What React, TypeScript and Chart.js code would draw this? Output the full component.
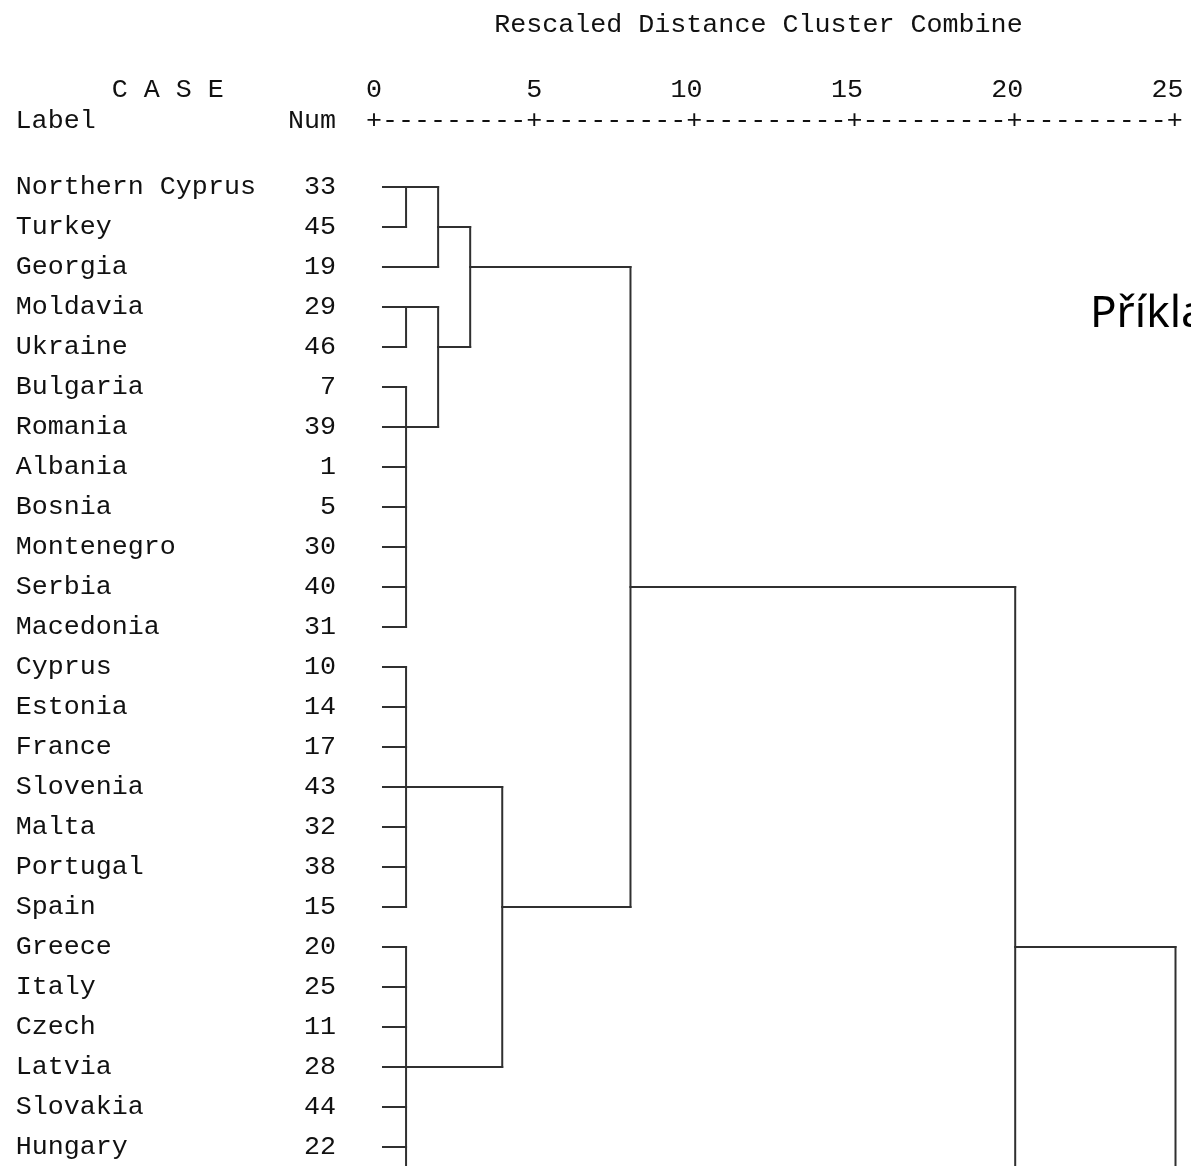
import { useEffect, useRef } from "react";
import { Chart, registerables } from "chart.js";

Chart.register(...registerables);

// ---- data ----
const caseLabels = [
  "Northern Cyprus", "Turkey", "Georgia", "Moldavia", "Ukraine", "Bulgaria",
  "Romania", "Albania", "Bosnia", "Montenegro", "Serbia", "Macedonia",
  "Cyprus", "Estonia", "France", "Slovenia", "Malta", "Portugal", "Spain",
  "Greece", "Italy", "Czech", "Latvia", "Slovakia", "Hungary",
];
const caseNums = [33, 45, 19, 29, 46, 7, 39, 1, 5, 30, 40, 31, 10, 14, 17, 43, 32, 38, 15, 20, 25, 11, 28, 44, 22];
const xTickValues = [0, 5, 10, 15, 20, 25];
const titleText = "Rescaled Distance Cluster Combine";
const slideText = "Příklad";

// merges: members are leaf row indices, names of earlier merges, or "below" (continues past the crop)
const mergeNames = ["A", "B", "C", "D", "E", "F", "G", "H", "I", "J", "K", "L"];
const mergeMembers: (number | string)[][] = [
  [0, 1],
  ["A", 2],
  [3, 4],
  [5, 6, 7, 8, 9, 10, 11],
  ["C", "D"],
  ["B", "E"],
  [12, 13, 14, 15, 16, 17, 18],
  [19, 20, 21, 22, 23, 24, "below"],
  ["G", "H"],
  ["F", "I"],
  ["J", "below"],
  ["K", "below"],
];
const mergeDistances = [1, 2, 1, 1, 2, 3, 1, 1, 4, 8, 20, 25];
const mergeExitRows = [0, 1, 3, 6, 4, 2, 15, 22, 18, 10, 19, 19];

// ---- style / layout constants ----
const MONO = '"Liberation Mono", "DejaVu Sans Mono", monospace';
const FONT_SIZE = 26.7;
const CHAR_W = FONT_SIZE * 0.6;
const TEXT_COLOR = "#111111";
const LINE_COLOR = "#303030";
const LEAF_START = 0.28;
const Y_AXIS_W = 350;
const X_AXIS_H = 106;
const ROW_PX = 40;
const FIRST_ROW_Y = 187;
const PX_PER_UNIT = 32.06;
const ZERO_X = 374;
const W = 1191;
const H = 1166;

const xMin = -(ZERO_X - Y_AXIS_W) / PX_PER_UNIT;
const xMax = xMin + (W - Y_AXIS_W) / PX_PER_UNIT;
const yMin = -(FIRST_ROW_Y - X_AXIS_H) / ROW_PX;
const yMax = yMin + (H - X_AXIS_H) / ROW_PX;
const belowRow = caseLabels.length + 2;

function rowText(i: number) {
  return caseLabels[i].padEnd(18, " ") + String(caseNums[i]).padStart(2, " ");
}

function buildSegments() {
  const info: Record<string, { row: number; x: number }> = {};
  const segs: { x: number; y: number }[][] = [];
  const memberInfo = (m: number | string) => {
    if (typeof m === "number") return { row: m, x: LEAF_START };
    if (m === "below") return { row: belowRow, x: LEAF_START };
    return info[m];
  };
  mergeNames.forEach((name, k) => {
    const d = mergeDistances[k];
    const ms = mergeMembers[k].map(memberInfo);
    const rows = ms.map((m) => m.row);
    const top = Math.min(...rows);
    const bottom = Math.max(...rows);
    segs.push([{ x: d, y: top }, { x: d, y: bottom }]);
    ms.forEach((m) => {
      if (m.row <= caseLabels.length) segs.push([{ x: m.x, y: m.row }, { x: d, y: m.row }]);
    });
    info[name] = { row: mergeExitRows[k], x: d };
  });
  return segs;
}

const textPlugin = {
  id: "spssText",
  afterDraw(chart: any) {
    const ctx = chart.ctx as CanvasRenderingContext2D;
    const xs = chart.scales.x;
    const ys = chart.scales.y;
    const px0 = xs.getPixelForValue(0);
    const labelRight = ys.right - 14;
    const labelLeft = labelRight - 20 * CHAR_W;
    ctx.save();
    ctx.fillStyle = TEXT_COLOR;
    ctx.font = `${FONT_SIZE}px ${MONO}`;
    ctx.textBaseline = "middle";
    ctx.textAlign = "left";
    ctx.fillText(titleText, px0 - CHAR_W / 2 + 8 * CHAR_W, 25);
    ctx.fillText("C A S E", labelLeft + 6 * CHAR_W, 90);
    ctx.fillText("Label", labelLeft, 121);
    ctx.textAlign = "right";
    ctx.fillText("Num", labelRight, 121);
    ctx.textAlign = "left";
    const ruler = "+---------".repeat(xTickValues.length - 1) + "+";
    ctx.fillText(ruler, px0 - CHAR_W / 2, 121);
    ctx.fillStyle = "#000";
    ctx.font = `44px "Noto Sans", sans-serif`;
    ctx.textBaseline = "alphabetic";
    ctx.fillText(slideText, 1090, 327);
    ctx.restore();
  },
};

export default function App() {
  const ref = useRef<HTMLCanvasElement | null>(null);
  useEffect(() => {
    if (!ref.current) return;
    const segs = buildSegments();
    const chart = new Chart(ref.current, {
      type: "scatter",
      data: {
        datasets: segs.map((s) => ({
          data: s,
          showLine: true,
          borderColor: LINE_COLOR,
          borderWidth: 2,
          borderCapStyle: "square",
          pointRadius: 0,
          pointHoverRadius: 0,
          fill: false,
          tension: 0,
        })),
      } as any,
      options: {
        animation: false,
        responsive: false,
        events: [],
        layout: { padding: 0 },
        plugins: {
          legend: { display: false },
          tooltip: { enabled: false },
          title: { display: false },
        },
        scales: {
          x: {
            type: "linear",
            position: "top",
            min: xMin,
            max: xMax,
            grid: { display: false, drawTicks: false },
            border: { display: false },
            ticks: {
              autoSkip: false,
              align: "end",
              labelOffset: CHAR_W / 2,
              padding: 0,
              color: TEXT_COLOR,
              font: { family: MONO, size: FONT_SIZE },
              callback: (v: any) => String(v),
            },
            afterBuildTicks: (s: any) => {
              s.ticks = xTickValues.map((v) => ({ value: v }));
            },
            afterFit: (s: any) => {
              s.height = X_AXIS_H;
              s.paddingLeft = 0;
              s.paddingRight = 0;
              s.paddingTop = 0;
              s.paddingBottom = 0;
            },
          },
          y: {
            type: "linear",
            position: "left",
            reverse: true,
            min: yMin,
            max: yMax,
            grid: { display: false, drawTicks: false },
            border: { display: false },
            ticks: {
              autoSkip: false,
              padding: 14,
              color: TEXT_COLOR,
              font: { family: MONO, size: FONT_SIZE },
              callback: (v: any) => rowText(Number(v)),
            },
            afterBuildTicks: (s: any) => {
              s.ticks = caseLabels.map((_, i) => ({ value: i }));
            },
            afterFit: (s: any) => {
              s.width = Y_AXIS_W;
              s.paddingLeft = 0;
              s.paddingRight = 0;
              s.paddingTop = 0;
              s.paddingBottom = 0;
            },
          },
        },
      } as any,
      plugins: [textPlugin],
    });
    return () => chart.destroy();
  }, []);
  return (
    <div style={{ position: "absolute", left: 0, top: 0, width: W, height: H, background: "#fff" }}>
      <canvas ref={ref} width={W} height={H} style={{ display: "block" }} />
    </div>
  );
}
